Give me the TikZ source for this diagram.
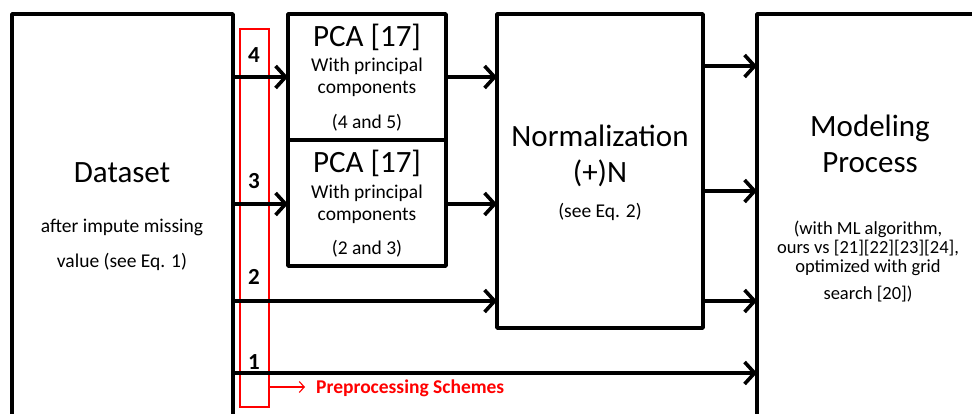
\documentclass[tikz,border=0pt]{standalone}
\usepackage{fontspec}
\setmainfont{Carlito}
\usetikzlibrary{arrows.meta}
\newcommand{\fsz}[1]{\fontsize{#1}{#1}\selectfont}
\begin{document}
\begin{tikzpicture}[x=1pt,y=-1pt,
  box/.style={draw=black,line width=3.6pt,rectangle,inner sep=0pt,outer sep=0pt,line join=round},
  arr/.style={line width=3.6pt,-{Straight Barb[length=10pt,width=22pt,line width=3.6pt]}},
  title/.style={inner sep=0pt,font=\fsz{31}},
  small/.style={inner sep=0pt,font=\fsz{19.5}},
  msmall/.style={inner sep=0pt,font=\fsz{18.5}},
  num/.style={inner sep=0pt,font=\fsz{23}\bfseries},
  redbox/.style={draw=red,line width=1.3pt,rectangle,inner sep=0pt,outer sep=0pt},
  redarr/.style={draw=red,line width=1.1pt,-{Straight Barb[length=5pt,width=11pt,line width=1.1pt]}}]
\useasboundingbox (0,0) rectangle (972,414);
\clip (0,0) rectangle (972,414);
% boxes
\node[box,minimum width=221pt,minimum height=500pt,anchor=north west] (ds) at (12,14) {};
\node[box,minimum width=158pt,minimum height=126pt,anchor=north west] (pca1) at (288,14) {};
\node[box,minimum width=158pt,minimum height=126pt,anchor=north west] (pca2) at (288,140) {};
\node[box,minimum width=206pt,minimum height=314pt,anchor=north west] (norm) at (497,14) {};
\node[box,minimum width=400pt,minimum height=500pt,anchor=north west] (mp) at (757,14) {};
\node[redbox,minimum width=29pt,minimum height=378pt,anchor=north west] (rb) at (240,29) {};
% texts
\node[title] (dst) at (122,173) {Dataset};
\node[small] (ds1) at (122,227) {after impute missing};
\node[small] (ds2) at (122,262) {value (see Eq. 1)};
\node[title] (p1t) at (367,37) {PCA [17]};
\node[small] (p1a) at (367,66) {With principal};
\node[small] (p1b) at (367,89) {components};
\node[small] (p1c) at (367,123) {(4 and 5)};
\node[title] (p2t) at (367,163) {PCA [17]};
\node[small] (p2a) at (367,193) {With principal};
\node[small] (p2b) at (367,216) {components};
\node[small] (p2c) at (367,249) {(2 and 3)};
\node[title] (nt1) at (600,136) {Normalization};
\node[title] (nt2) at (600,173) {(+)N};
\node[small] (nt3) at (600,212) {(see Eq. 2)};
\node[title] (mt1) at (870,128) {Modeling};
\node[title] (mt2) at (870,163) {Process};
\node[msmall] (ma) at (868,229) {(with ML algorithm,};
\node[msmall] (mb) at (868,248.5) {ours vs [21][22][23][24],};
\node[msmall] (mc) at (868,268) {optimized with grid};
\node[msmall] (md) at (868,294) {search [20])};
\node[num] (n4) at (254,55) {4};
\node[num] (n3) at (254,181) {3};
\node[num] (n2) at (254,277) {2};
\node[num] (n1) at (254,362) {1};
% rows
\coordinate (r4) at (0,77);
\coordinate (r3) at (0,204);
\coordinate (r2) at (0,301);
\coordinate (r1) at (0,373);
\coordinate (o1) at (0,66);
\coordinate (o2) at (0,191);
\coordinate (rp) at (0,387);
\coordinate (rpe) at (305,387);
% connectors
\draw[arr] (ds.east |- r4) -- (pca1.west |- r4);
\draw[arr] (ds.east |- r3) -- (pca2.west |- r3);
\draw[arr] (ds.east |- r2) -- (norm.west |- r2);
\draw[arr] (ds.east |- r1) -- (mp.west |- r1);
\draw[arr] (pca1.east |- r4) -- (norm.west |- r4);
\draw[arr] (pca2.east |- r3) -- (norm.west |- r3);
\draw[arr] (norm.east |- o1) -- (mp.west |- o1);
\draw[arr] (norm.east |- o2) -- (mp.west |- o2);
\draw[arr] (norm.east |- r2) -- (mp.west |- r2);
\draw[redarr] (rb.east |- rp) -- (rpe);
\node[inner sep=0pt,anchor=west,text=red,font=\fsz{19.5}\bfseries] (ps) at (316,388) {Preprocessing Schemes};
\end{tikzpicture}
\end{document}
